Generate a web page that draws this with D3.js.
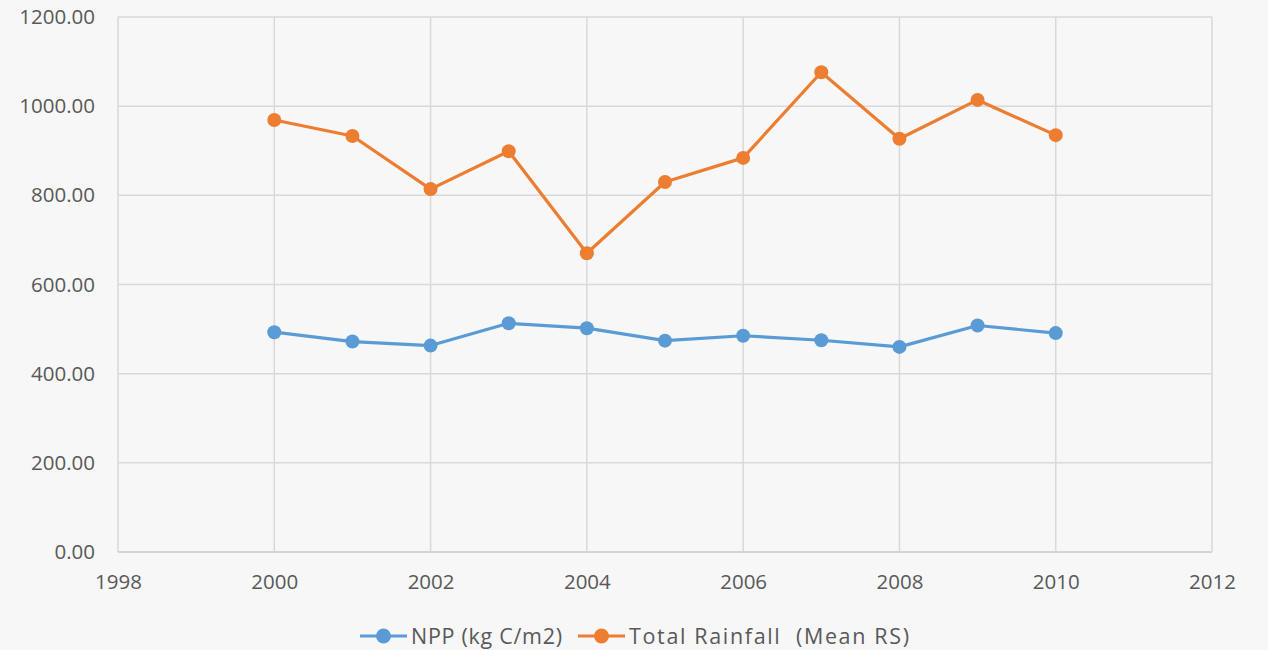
<!DOCTYPE html>
<html>
<head>
<meta charset="utf-8">
<script src="https://cdn.jsdelivr.net/npm/d3@7"></script>
<style>
  body { margin: 0; background: #f7f7f7; }
  svg { display: block; }
  text { font-family: "Open Sans", Lato, sans-serif; fill: #595959; }
</style>
</head>
<body>
<svg width="1268" height="650"></svg>
<script>
// Data
const years = [2000, 2001, 2002, 2003, 2004, 2005, 2006, 2007, 2008, 2009, 2010];
const npp = [493, 472, 463, 513, 502, 474, 485, 475, 460, 508, 491];
const rainfall = [969, 933, 814, 899, 670, 830, 884, 1076, 927, 1014, 935];
const xTicks = [1998, 2000, 2002, 2004, 2006, 2008, 2010, 2012];
const yTicks = [0, 200, 400, 600, 800, 1000, 1200];

const series = [
  { name: "NPP (kg C/m2)", values: npp, color: "#5b9bd5" },
  { name: "Total Rainfall  (Mean RS)", values: rainfall, color: "#ed7d31" }
];

const svg = d3.select("svg");
svg.append("rect").attr("width", 1268).attr("height", 650).attr("fill", "#f7f7f7");

const x = d3.scaleLinear().domain([1998, 2012]).range([118, 1212]);
const y = d3.scaleLinear().domain([0, 1200]).range([552, 17]);

// Gridlines
const grid = svg.append("g");
grid.selectAll(".hg").data(yTicks).join("line")
    .attr("x1", x(1998)).attr("x2", x(2012))
    .attr("y1", d => y(d)).attr("y2", d => y(d))
    .attr("stroke", "#d9d9d9").attr("stroke-width", 1.5);
grid.selectAll(".vg").data(xTicks).join("line")
    .attr("x1", d => x(d)).attr("x2", d => x(d))
    .attr("y1", y(0)).attr("y2", y(1200))
    .attr("stroke", "#d9d9d9").attr("stroke-width", 1.5);

// Axes (labels only, lines drawn by grid)
const yAxis = svg.append("g")
    .attr("transform", `translate(${x(1998)},0)`)
    .call(d3.axisLeft(y).tickValues(yTicks).tickFormat(d3.format(".2f")).tickSize(0).tickPadding(23));
const xAxis = svg.append("g")
    .attr("transform", `translate(0,${y(0)})`)
    .call(d3.axisBottom(x).tickValues(xTicks).tickFormat(d3.format("d")).tickSize(0).tickPadding(22));
[yAxis, xAxis].forEach(a => {
    a.select(".domain").remove();
    a.selectAll("text").attr("font-size", 20.5).attr("fill", "#595959")
        .style("font-family", "'Open Sans', Lato, sans-serif");
});
svg.append("line")
    .attr("x1", x(1998)).attr("x2", x(2012)).attr("y1", y(0)).attr("y2", y(0))
    .attr("stroke", "#d0d0d0").attr("stroke-width", 1.5);

// Lines and markers
const line = d3.line().x((d, i) => x(years[i])).y(d => y(d));
series.forEach(s => {
    svg.append("path")
        .attr("d", line(s.values))
        .attr("fill", "none")
        .attr("stroke", s.color)
        .attr("stroke-width", 3.2)
        .attr("stroke-linejoin", "round");
    svg.append("g").selectAll("circle").data(s.values).join("circle")
        .attr("cx", (d, i) => x(years[i]))
        .attr("cy", d => y(d))
        .attr("r", 7)
        .attr("fill", s.color);
});

// Legend
const legendX = [360, 578];
const legendWidths = [151, 280];
series.forEach((s, i) => {
    const g = svg.append("g").attr("transform", `translate(${legendX[i]},636)`);
    g.append("line").attr("x1", 0).attr("x2", 47).attr("stroke", s.color).attr("stroke-width", 3.2);
    g.append("circle").attr("cx", 23.5).attr("r", 7.5).attr("fill", s.color);
    g.append("text").attr("x", 51).attr("dy", "0.35em").attr("font-size", 21.5)
        .attr("textLength", legendWidths[i]).attr("lengthAdjust", "spacing")
        .style("white-space", "pre").text(s.name);
});
</script>
</body>
</html>
